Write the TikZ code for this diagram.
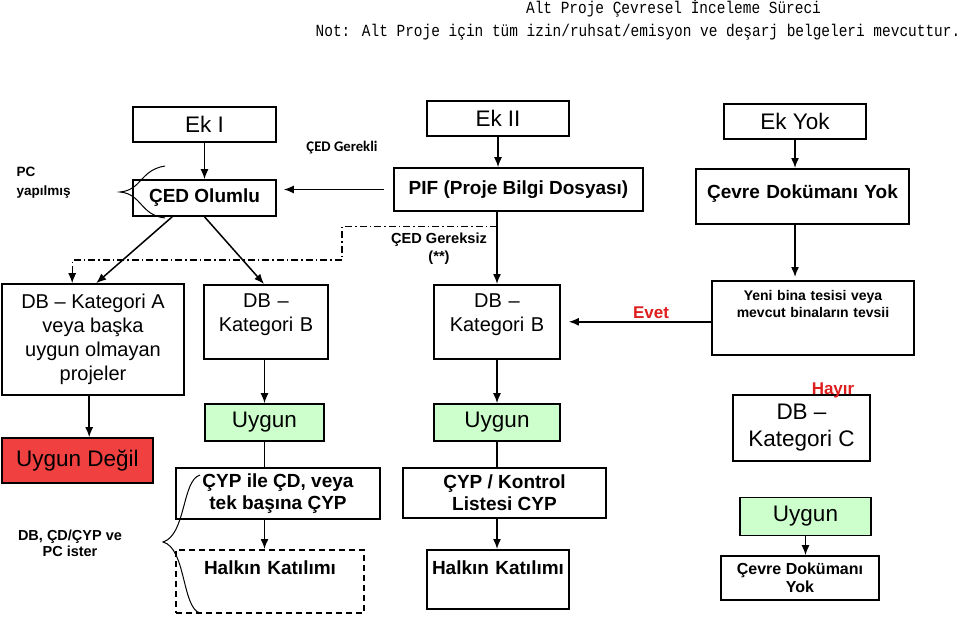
\documentclass[tikz,border=0pt]{standalone}
\usepackage{fontspec}
\usetikzlibrary{arrows.meta}
\setmainfont{Liberation Sans}
\newfontfamily\calibri{Carlito}
\newfontfamily\titlemono[FakeStretch=0.85]{Liberation Mono}
\definecolor{uygungreen}{RGB}{204,255,204}
\definecolor{degilred}{RGB}{240,64,64}
\definecolor{evetred}{RGB}{222,30,30}

\begin{document}
\begin{tikzpicture}[x=1pt,y=-1pt]

    \tikzset{
      box/.style={
        draw,
        line width=1.6pt,
        inner sep=0pt,
        align=center,
      },
      greenbox/.style={box, fill=uygungreen},
      redbox/.style={box, fill=degilred},
      dashbox/.style={box, dash pattern=on 6pt off 4pt},
      big/.style={font=\fontsize{22.5}{27}\selectfont},
      med/.style={font=\fontsize{20}{24}\selectfont},
      midb/.style={font=\fontsize{19}{22}\selectfont\bfseries},
      smallb/.style={font=\fontsize{14}{17}\selectfont\bfseries},
      remark/.style={font=\fontsize{14.5}{16}\selectfont\bfseries, align=center},
      answer/.style={font=\fontsize{17}{20}\selectfont\bfseries, text=evetred},
      titletext/.style={font=\titlemono\fontsize{17}{20}\selectfont},
      arr/.style={line width=1.5pt, -{Latex[length=10pt, width=8pt]}},
      plain/.style={line width=1.5pt},
      dashdot/.style={line width=1.3pt, -{Latex[length=10pt, width=8pt]}, dash pattern=on 7pt off 3pt on 1.5pt off 3pt},
      brace/.style={line width=1pt},
    }
    \useasboundingbox (0,0) rectangle (960,618);

	\draw (673.5,9) node[titletext] (title) {Alt Proje Çevresel İnceleme Süreci};
	\draw (638,32) node[titletext] (note) {Not: Alt Proje için tüm izin/ruhsat/emisyon ve deşarj belgeleri mevcuttur.};

	\draw (204.5,124.5) node[box, big, minimum width=143pt, minimum height=35pt] (ekI) {Ek I};
	\draw (204.5,198) node[box, midb, minimum width=143pt, minimum height=36pt] (olumlu) {ÇED Olumlu};
	\draw (498,118.5) node[box, big, minimum width=142pt, minimum height=35pt] (ekII) {Ek II};
	\draw (518.5,189.5) node[box, midb, minimum width=249pt, minimum height=43pt] (pif) {PIF (Proje Bilgi Dosyası)};
	\draw (795,121.5) node[box, big, minimum width=142pt, minimum height=35pt] (ekyok) {Ek Yok};
	\draw (802.5,168) node[box, midb, anchor=north, text width=213pt, text height=30pt, text depth=25pt] (cevreyok) {Çevre Dokümanı Yok};

	\draw (93,339.5) node[box, med, minimum width=182pt, minimum height=111pt] (dbA) {DB – Kategori A\\veya başka\\uygun olmayan\\projeler};
	\draw (266,284) node[box, med, anchor=north, text width=124pt, text height=23pt, text depth=51pt] (dbB1) {DB –\\Kategori B};
	\draw (497,284) node[box, med, anchor=north, text width=126pt, text height=23pt, text depth=51pt] (dbB2) {DB –\\Kategori B};
	\draw (813,280) node[box, smallb, anchor=north, text width=202pt, text height=20pt, text depth=54pt] (yeni) {Yeni bina tesisi veya\\mevcut binaların tevsii};
	\draw (801.5,428) node[box, big, minimum width=137pt, minimum height=66pt] (dbC) {DB –\\Kategori C};

	\draw (264.5,422.5) node[greenbox, big, minimum width=119pt, minimum height=37pt] (uygun1) {Uygun};
	\draw (497,422.5) node[greenbox, big, minimum width=126pt, minimum height=37pt] (uygun2) {Uygun};
	\draw (77.5,460.5) node[redbox, big, minimum width=151pt, minimum height=45pt] (degil) {Uygun Değil};
	\draw (805.5,516.5) node[greenbox, big, minimum width=131pt, minimum height=38pt] (uygun3) {Uygun};

	\draw (278,493.5) node[box, midb, minimum width=204pt, minimum height=51pt] (cyp1) {ÇYP ile ÇD, veya\\tek başına ÇYP};
	\draw (504.5,493) node[box, midb, minimum width=203pt, minimum height=50pt] (cyp2) {ÇYP / Kontrol\\Listesi CYP};
	\draw (270,549) node[dashbox, midb, anchor=north, text width=188pt, text height=25pt, text depth=38pt] (halk1) {Halkın Katılımı};
	\draw (498,549) node[box, midb, anchor=north, text width=142pt, text height=25pt, text depth=34pt] (halk2) {Halkın Katılımı};
	\draw (800,578) node[box, font=\fontsize{16}{18}\selectfont\bfseries, minimum width=158pt, minimum height=44pt] (cdy2) {Çevre Dokümanı\\Yok};

	\draw (13,182.5) node[anchor=west, align=left, font=\fontsize{13.5}{19}\selectfont\bfseries] (pcyap) {PC\\yapılmış};
	\draw (70,543) node[remark] (dbcd) {DB, ÇD/ÇYP ve\\PC ister};
	\draw (342,148) node[font=\calibri\fontsize{14.7}{17}\selectfont\bfseries] (gerekli) {ÇED Gerekli};
	\draw (439,249) node[remark, font=\fontsize{14.6}{18}\selectfont\bfseries] (gereksiz) {ÇED Gereksiz\\(**)};
	\draw (833,390) node[answer] (hayir) {Hayır};

	\coordinate (knee) at (342,260);

	\draw[arr] (ekI) -- (olumlu);
	\draw[arr, shorten <=9pt, shorten >=7pt] (pif.west) -- (pif.west -| olumlu.east);
	\draw[arr] (ekII.south) -- (ekII.south |- pif.north);
	\draw[arr] (ekyok.south) -- (ekyok.south |- cevreyok.north);
	\draw[arr, shorten >=3pt] (ekyok.south |- cevreyok.south) -- (ekyok.south |- yeni.north);
	\draw[arr] ([xshift=40pt]olumlu.south west) -- ([xshift=95pt]dbA.north west);
	\draw[arr] (olumlu.south) -- ([xshift=-2pt]dbB1.north);
	\draw[dashdot] (pif.south -| dbB2) ++(0,15) -| (knee) -| ([xshift=71pt]dbA.north west);
	\draw[arr] (pif.south -| dbB2) -- (dbB2.north);
	\draw[arr, shorten >=8pt] (yeni.west |- dbB2) -- (dbB2.east) node[pos=0.4, above, inner sep=2pt, answer] (evet) {Evet};

	\draw[arr] ([xshift=88pt]dbA.south west) -- ([xshift=88pt]degil.north west);
	\draw[arr] (dbB1.south -| uygun1) -- (uygun1);
	\draw[plain] (uygun1) -- (uygun1 |- cyp1.north);
	\draw[arr] (cyp1.south -| uygun1) -- (halk1.north -| uygun1);
	\draw[arr] (dbB2) -- (uygun2);
	\draw[plain] (uygun2) -- (uygun2 |- cyp2.north);
	\draw[arr] (cyp2.south -| uygun2) -- (halk2.north -| uygun2);
	\draw[arr] (uygun3) -- (uygun3 |- cdy2.north);

	\draw[brace] (165,166) .. controls (140,170) and (142,190) .. (120,192) .. controls (142,194) and (140,215) .. (165,218);
	\draw[brace] (200,475) .. controls (182,480) and (186,535) .. (163,542) .. controls (186,548) and (182,608) .. (200,613);

\end{tikzpicture}
\end{document}
